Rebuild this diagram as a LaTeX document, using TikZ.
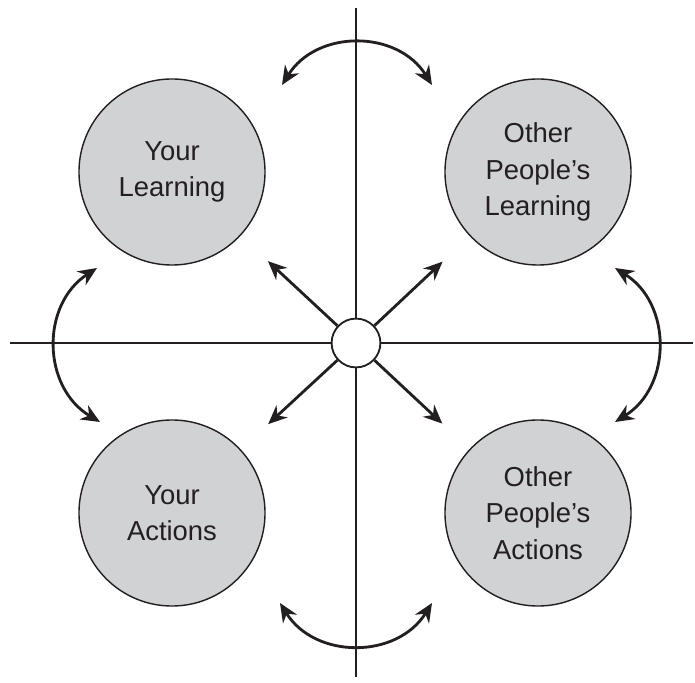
\documentclass[tikz,border=0pt]{standalone}
\usepackage{fontspec}
\setmainfont{Liberation Sans}
\usepackage{tikz}
\usetikzlibrary{arrows.meta}

\definecolor{discgray}{RGB}{209,210,212}
\definecolor{ink}{RGB}{35,31,32}

\begin{document}
\begin{tikzpicture}[x=0.025cm, y=0.025cm,
        main/.style = {draw=ink, circle, fill=discgray, line width=1pt, minimum size=4.65cm, align=center, text=ink, font=\fontsize{19.5}{26}\selectfont},
        hub/.style = {draw=ink, circle, fill=white, line width=1.3pt, minimum size=1.22cm},
        axis/.style = {draw=ink, line width=1.3pt},
        spoke/.style = {draw=ink, line width=2pt, -{Stealth[length=0.47cm, width=0.41cm]}},
        curv/.style = {draw=ink, line width=2pt, {Stealth[length=0.47cm, width=0.41cm]}-{Stealth[length=0.47cm, width=0.41cm]}}]
        \useasboundingbox (-356,-339) rectangle (339,343);
        \draw[axis] (0,335) -- (0,-334);
        \draw[axis] (-346,0) -- (337,0);
        \node[hub] (0) at (0,0) {};
        \node[main] (1) at (-184,171) {Your\\Learning};
        \node[main] (2) at (182,171) {Other\\People’s\\Learning};
        \node[main] (3) at (-184,-170) {Your\\Actions};
        \node[main] (4) at (182,-170) {Other\\People’s\\Actions};
        \draw[spoke, shorten >=0.93cm] (0) -- (1);
        \draw[spoke, shorten >=0.93cm] (0) -- (2);
        \draw[spoke, shorten >=0.93cm] (0) -- (3);
        \draw[spoke, shorten >=0.93cm] (0) -- (4);
        \coordinate (t1) at (-74,258);
        \coordinate (t2) at (76,258);
        \coordinate (b1) at (-76,-260);
        \coordinate (b2) at (76,-260);
        \coordinate (l1) at (-259,75);
        \coordinate (l2) at (-256,-79);
        \coordinate (r1) at (259,75);
        \coordinate (r2) at (259,-79);
        \draw[curv] (t1) to[bend left=58, looseness=1.12] (t2);
        \draw[curv] (b1) to[bend right=58, looseness=1.12] (b2);
        \draw[curv] (l1) to[bend right=58, looseness=1.12] (l2);
        \draw[curv] (r1) to[bend left=58, looseness=1.12] (r2);
\end{tikzpicture}
\end{document}
